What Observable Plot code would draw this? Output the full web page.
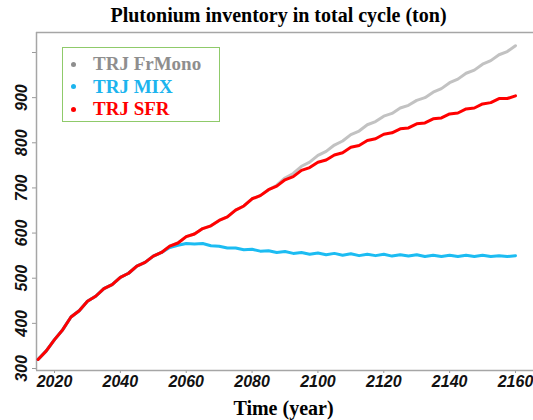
<!DOCTYPE html>
<html>
<head>
<meta charset="utf-8">
<script src="https://cdn.jsdelivr.net/npm/d3@7"></script>
<script src="https://cdn.jsdelivr.net/npm/@observablehq/plot@0.6"></script>
<style>
  body { margin: 0; background: #fff; }
  #chart { position: relative; width: 533px; height: 420px; overflow: hidden; }
  .pu [aria-label$="axis tick"], .pu .tick line { stroke: #9a9a9a; }
  #legend {
    position: absolute; left: 62px; top: 47px; width: 156px; height: 73px;
    border: 1.5px solid #8fca6a; background: #fff;
    font: bold 19px "Liberation Serif", "Times New Roman", serif;
  }
  #legend .row { position: absolute; left: 0; height: 22px; line-height: 22px; white-space: nowrap; }
  #legend .dot { position: absolute; left: 7.5px; top: 8.5px; width: 5px; height: 5px; border-radius: 50%; }
  #legend .lab { position: absolute; left: 30px; top: 0; }
</style>
</head>
<body>
<div id="chart"></div>
<script>
// Plutonium inventory (ton) in the whole fuel cycle, per trajectory
const years = [
  2015, 2017.5, 2020, 2022.5, 2025, 2027.5, 2030, 2032.5, 2035, 2037.5,
  2040, 2042.5, 2045, 2047.5, 2050, 2052.5, 2055, 2057.5, 2060, 2062.5,
  2065, 2067.5, 2070, 2072.5, 2075, 2077.5, 2080, 2082.5, 2085, 2087.5,
  2090, 2092.5, 2095, 2097.5, 2100, 2102.5, 2105, 2107.5, 2110, 2112.5,
  2115, 2117.5, 2120, 2122.5, 2125, 2127.5, 2130, 2132.5, 2135, 2137.5,
  2140, 2142.5, 2145, 2147.5, 2150, 2152.5, 2155, 2157.5, 2160
];

const frMono = [
  320, 339, 364, 386, 414, 428, 449, 460, 477, 486,
  502, 511, 527, 535, 549, 557, 571, 578, 592, 598,
  610, 616, 628, 636, 651, 660, 676, 683, 696, 706,
  722, 732, 748, 757, 772, 781, 795, 804, 818, 826,
  840, 847, 859, 865, 877, 883, 894, 900, 912, 920,
  933, 941, 954, 961, 974, 982, 995, 1002, 1015
];

const mix = [
  320, 339, 364, 386, 414, 428, 449, 460, 477, 486,
  502, 511, 527, 535, 549, 557, 568, 573, 577, 576,
  577, 572, 571, 567, 567, 563, 564, 560, 561, 557,
  559, 555, 557, 553, 556, 552, 555, 551, 554, 550,
  553, 550, 553, 549, 552, 549, 552, 548, 551, 548,
  551, 548, 551, 548, 551, 548, 550, 548, 550
];

const sfr = [
  320, 339, 364, 386, 414, 428, 449, 460, 477, 486,
  502, 511, 527, 535, 549, 557, 571, 578, 592, 598,
  610, 616, 628, 636, 651, 660, 676, 683, 696, 704,
  718, 725, 739, 745, 757, 762, 773, 778, 790, 794,
  805, 809, 819, 822, 831, 833, 842, 844, 853, 855,
  864, 866, 875, 877, 886, 889, 898, 898, 904
];

const seriesNames = ["TRJ FrMono", "TRJ MIX", "TRJ SFR"];
const lineColors = ["#c2c2c2", "#1cbcf2", "#ff0000"];
const legendColors = ["#8e8e8e", "#1cb4ee", "#ff0000"];

const xTicks = [2020, 2040, 2060, 2080, 2100, 2120, 2140, 2160];
const yTicks = [300, 400, 500, 600, 700, 800, 900, 1000];
const yLabels = [300, 400, 500, 600, 700, 800, 900];

const titleText = "Plutonium inventory in total cycle (ton)";
const xTitle = "Time (year)";

const xDomain = [2014.53, 2165.47];
const yDomain = [295.57, 1044.3];

const frameColor = "#a6a6a6";
const serif = "Liberation Serif, Times New Roman, serif";
const sans = "Liberation Sans, Arial, sans-serif";

const seriesValues = [frMono, mix, sfr];

const plot = Plot.plot({
  className: "pu",
  width: 533,
  height: 420,
  marginLeft: 36,
  marginRight: 0,
  marginTop: 32,
  marginBottom: 50,
  style: {
    fontFamily: sans,
    fontSize: "16px",
    fontWeight: "bold",
    fontStyle: "italic",
    color: "#111",
    background: "transparent"
  },
  x: {domain: xDomain, ticks: xTicks, tickFormat: "d", tickSize: 3, tickPadding: 2, label: null},
  y: {domain: yDomain, ticks: yTicks, tickFormat: () => "", tickSize: 4, label: null},
  marks: [
    Plot.ruleY([yDomain[0], yDomain[1]], {stroke: frameColor, strokeWidth: 1.5}),
    Plot.ruleX([xDomain[0]], {stroke: frameColor, strokeWidth: 1.5}),
    ...seriesValues.map((vals, k) =>
      Plot.line(vals, {
        x: (d, i) => years[i],
        y: d => d,
        stroke: lineColors[k],
        strokeWidth: 3,
        strokeLinejoin: "round",
        strokeLinecap: "round"
      })
    ),
    Plot.text(yLabels, {
      y: d => d,
      text: d => String(d),
      frameAnchor: "left",
      dx: -15,
      rotate: -90,
      textAnchor: "middle",
      lineAnchor: "middle",
      fontFamily: sans,
      fontSize: 16,
      fontWeight: "bold",
      fontStyle: "italic",
      fill: "#111"
    }),
    Plot.text([titleText], {
      text: d => d,
      frameAnchor: "top",
      dx: -6.5,
      dy: -16.5,
      lineAnchor: "middle",
      fontFamily: serif,
      fontSize: 20,
      fontWeight: "bold",
      fontStyle: "normal",
      fill: "#000"
    }),
    Plot.text([xTitle], {
      text: d => d,
      frameAnchor: "bottom",
      dx: -1.5,
      dy: 38.5,
      lineAnchor: "middle",
      fontFamily: serif,
      fontSize: 20,
      fontWeight: "bold",
      fontStyle: "normal",
      fill: "#000"
    })
  ]
});

const chart = document.getElementById("chart");
chart.appendChild(plot);

// Legend box drawn over the plot area
const legend = document.createElement("div");
legend.id = "legend";
const rowTops = [5, 27.5, 50];
seriesNames.forEach((name, k) => {
  const row = document.createElement("div");
  row.className = "row";
  row.style.top = rowTops[k] + "px";
  const dot = document.createElement("span");
  dot.className = "dot";
  dot.style.background = legendColors[k];
  const lab = document.createElement("span");
  lab.className = "lab";
  lab.style.color = legendColors[k];
  lab.textContent = name;
  row.appendChild(dot);
  row.appendChild(lab);
  legend.appendChild(row);
});
chart.appendChild(legend);
</script>
</body>
</html>
